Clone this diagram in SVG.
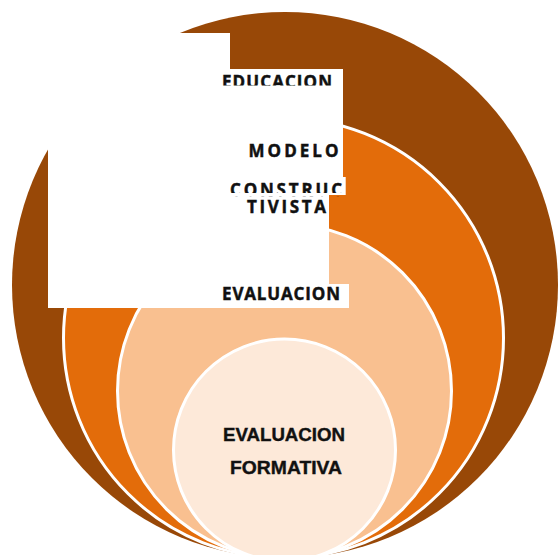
<svg xmlns="http://www.w3.org/2000/svg" width="558" height="555" viewBox="0 0 558 555">
  <defs>
    <style>
      .ring { stroke: #ffffff; stroke-width: 3; }
      .box { font-family: "Open Sans", "Liberation Sans", sans-serif; font-weight: 700; font-size: 17px; fill: #111111; stroke: #111111; stroke-width: 0.45; }
      .core { font-family: "Liberation Sans", "Arial", sans-serif; font-weight: 700; font-size: 19px; fill: #111111; stroke: #111111; stroke-width: 0.4; }
    </style>
    <clipPath id="clipEdu"><rect x="200" y="60" width="160" height="25.5"/></clipPath>
    <clipPath id="clipCon"><rect x="200" y="176" width="160" height="17"/><rect x="200" y="196" width="160" height="22"/></clipPath>
  </defs>
  <rect width="558" height="555" fill="#ffffff"/>
  <g id="educacion">
    <circle cx="285" cy="285" r="273" fill="#984807"/>
  </g>
  <g id="modelo-constructivista">
    <circle class="ring" cx="283.5" cy="338" r="220" fill="#E36C0A"/>
  </g>
  <g id="evaluacion">
    <circle class="ring" cx="284.5" cy="391" r="167" fill="#F9C090"/>
  </g>
  <g id="evaluacion-formativa">
    <circle class="ring" cx="284.5" cy="450" r="111" fill="#FDE9D9"/>
    <text class="core" x="223" y="441" textLength="122" lengthAdjust="spacingAndGlyphs">EVALUACION</text>
    <text class="core" x="230" y="474" textLength="112" lengthAdjust="spacingAndGlyphs">FORMATIVA</text>
  </g>
  <g id="labels">
    <path d="M48,33 H230 V69 H343 V177 H345.7 V195 H329 V284 H349 V308 H48 Z" fill="#ffffff"/>
    <text class="box" x="222" y="88" textLength="110" lengthAdjust="spacing" clip-path="url(#clipEdu)">EDUCACION</text>
    <text class="box" x="248.5" y="157" textLength="90" lengthAdjust="spacing">MODELO</text>
    <text class="box" clip-path="url(#clipCon)"><tspan x="230" y="195.5" textLength="112" lengthAdjust="spacing">CONSTRUC</tspan><tspan x="247" y="213" textLength="79" lengthAdjust="spacing">TIVISTA</tspan></text>
    <text class="box" x="222" y="300" textLength="118" lengthAdjust="spacing">EVALUACION</text>
  </g>
</svg>
